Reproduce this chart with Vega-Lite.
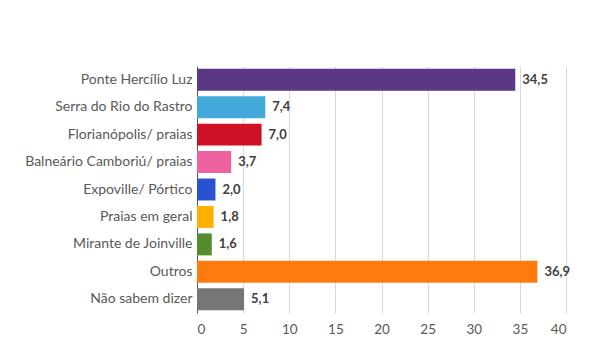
{
  "$schema": "https://vega.github.io/schema/vega-lite/v6.json",
  "autosize": {"type": "none"},
  "padding": {"left": 197, "top": 66, "right": 34, "bottom": 49},
  "width": 369,
  "height": 247,
  "background": "white",
  "config": {
    "view": {"stroke": null},
    "font": "Lato",
    "locale": {"number": {"decimal": ",", "thousands": ".", "grouping": [3], "currency": ["R$", ""]}}
  },
  "data": {
    "values": [
      {"categoria": "Ponte Hercílio Luz", "valor": 34.5, "cor": "#5B3886"},
      {"categoria": "Serra do Rio do Rastro", "valor": 7.4, "cor": "#42A9D9"},
      {"categoria": "Florianópolis/ praias", "valor": 7.0, "cor": "#CE1126"},
      {"categoria": "Balneário Camboriú/ praias", "valor": 3.7, "cor": "#EE62A0"},
      {"categoria": "Expoville/ Pórtico", "valor": 2.0, "cor": "#2A52D0"},
      {"categoria": "Praias em geral", "valor": 1.8, "cor": "#FFB000"},
      {"categoria": "Mirante de Joinville", "valor": 1.6, "cor": "#548C2F"},
      {"categoria": "Outros", "valor": 36.9, "cor": "#FF7A0F"},
      {"categoria": "Não sabem dizer", "valor": 5.1, "cor": "#767676"}
    ]
  },
  "encoding": {
    "y": {
      "field": "categoria", "type": "nominal", "sort": null,
      "scale": {"paddingInner": 0.2, "paddingOuter": 0.1},
      "axis": {"title": null, "ticks": false, "domainColor": "#595959", "domainWidth": 1,
               "labelColor": "#595959", "labelFontSize": 14, "labelPadding": 5, "labelFont": "Lato"}
    },
    "x": {
      "field": "valor", "type": "quantitative",
      "scale": {"domain": [0, 40], "nice": false},
      "axis": {"title": null, "values": [0, 5, 10, 15, 20, 25, 30, 35, 40], "domain": false, "ticks": false,
               "gridColor": "#D9D9D9", "labelColor": "#595959", "labelFontSize": 13.5, "labelPadding": 9, "labelFont": "Lato"}
    }
  },
  "layer": [
    {"mark": {"type": "bar"}, "encoding": {"color": {"field": "cor", "type": "nominal", "scale": null}}},
    {"mark": {"type": "text", "align": "left", "dx": 7, "fontWeight": "bold", "fontSize": 13, "color": "#404040", "font": "Lato"},
     "encoding": {"text": {"field": "valor", "type": "quantitative", "format": ".1f"}}}
  ]
}
